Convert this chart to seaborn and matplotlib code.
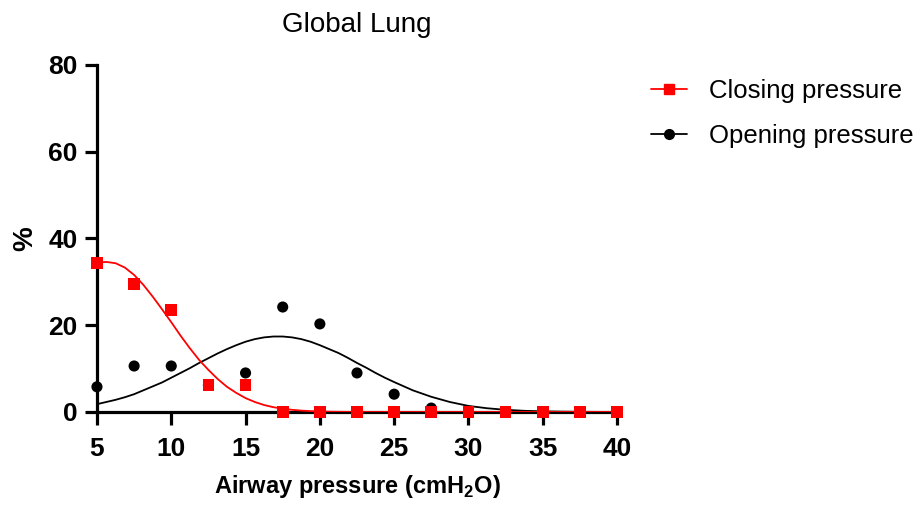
import matplotlib
matplotlib.use("Agg")
import matplotlib.pyplot as plt
from matplotlib.lines import Line2D
import pandas as pd
import seaborn as sns

# measured points
pressure = [5, 7.5, 10, 12.5, 15, 17.5, 20, 22.5, 25, 27.5, 30, 32.5, 35, 37.5, 40]
closing = [34.4, 29.5, 23.5, 6.2, 6.2, 0, 0, 0, 0, 0, 0, 0, 0, 0, 0]
opening = [5.8, 10.6, 10.6, 6.2, 9.0, 24.2, 20.3, 9.0, 4.1, 0.9, 0, 0, 0, 0, 0]

# fitted curves
fit_x = [5, 5.625, 6.25, 6.875, 7.5, 8.125, 8.75, 9.375, 10, 10.625,
         11.25, 11.875, 12.5, 13.125, 13.75, 14.375, 15, 15.625, 16.25, 16.875,
         17.5, 18.125, 18.75, 19.375, 20, 20.625, 21.25, 21.875, 22.5, 23.125,
         23.75, 24.375, 25, 26.25, 27.5, 28.75, 30, 31.25, 32.5, 33.75,
         35, 36.25, 37.5, 38.75, 40]
closing_fit = [34.4, 34.6, 34.3, 33.3, 31.6, 29.3, 26.6, 23.7, 20.7, 17.6,
               14.7, 12.0, 9.7, 7.6, 5.8, 4.4, 3.2, 2.3, 1.6, 1.1,
               0.75, 0.5, 0.32, 0.2, 0.12, 0.07, 0.04, 0.02, 0.01, 0,
               0, 0, 0, 0, 0, 0, 0, 0, 0, 0,
               0, 0, 0, 0, 0]
opening_fit = [1.8, 2.3, 2.8, 3.4, 4.1, 5.0, 5.9, 6.8, 7.9, 9.0,
               10.1, 11.3, 12.4, 13.5, 14.5, 15.4, 16.2, 16.8, 17.2, 17.4,
               17.4, 17.2, 16.8, 16.2, 15.4, 14.5, 13.6, 12.5, 11.3, 10.2,
               9.0, 7.9, 6.9, 5.0, 3.5, 2.3, 1.4, 0.86, 0.5, 0.27,
               0.15, 0.08, 0.04, 0.02, 0.01]

series_names = ["Closing pressure", "Opening pressure"]
colors = ["#ff0000", "#000000"]

pts = pd.DataFrame({"x": pressure, "closing": closing, "opening": opening})
fit = pd.DataFrame({"x": fit_x, "closing": closing_fit, "opening": opening_fit})

sns.set_style("ticks")
plt.rcParams["font.family"] = ["Liberation Sans", "DejaVu Sans"]
plt.rcParams["text.color"] = "black"
plt.rcParams["axes.labelcolor"] = "black"
plt.rcParams["xtick.color"] = "black"
plt.rcParams["ytick.color"] = "black"

fig = plt.figure(figsize=(9.2, 5.05), dpi=100)
ax = fig.add_axes([0.1054, 0.1842, 0.5653, 0.6871])

sns.lineplot(data=fit, x="x", y="opening", color=colors[1], linewidth=1.3, ax=ax, zorder=2)
sns.scatterplot(data=pts, x="x", y="opening", color=colors[1], marker="o", s=64,
                edgecolor="none", ax=ax, zorder=3, clip_on=False)
sns.lineplot(data=fit, x="x", y="closing", color=colors[0], linewidth=1.3, ax=ax, zorder=4)
sns.scatterplot(data=pts, x="x", y="closing", color=colors[0], marker="s", s=72,
                edgecolor="none", ax=ax, zorder=5, clip_on=False)

ax.set_xlim(5, 40)
ax.set_ylim(0, 80)
ax.set_xticks(range(5, 41, 5))
ax.set_yticks(range(0, 81, 20))
for s in ["top", "right"]:
    ax.spines[s].set_visible(False)
for s in ["left", "bottom"]:
    ax.spines[s].set_linewidth(2.3)
    ax.spines[s].set_color("black")
ax.tick_params(axis="both", direction="out", length=9, width=2.3, color="black",
               labelsize=19, pad=5)
ax.tick_params(axis="x", pad=9)
for lab in ax.get_xticklabels() + ax.get_yticklabels():
    lab.set_fontweight("bold")

ax.set_xlabel("Airway pressure (cmH$_\\mathregular{2}$O)", fontsize=17, fontweight="bold", labelpad=9)
ax.set_ylabel("%", fontsize=20, fontweight="bold", labelpad=7)
ax.set_title("Global Lung", fontsize=20, pad=24)

handles = [
    Line2D([], [], color=colors[0], marker="s", markersize=7.5, linewidth=1.3),
    Line2D([], [], color=colors[1], marker="o", markersize=7, linewidth=1.3),
]
fig.legend(handles, series_names, loc="upper left", bbox_to_anchor=(0.683, 0.889),
           frameon=False, fontsize=18.5, handlelength=1.4, labelspacing=0.8, handletextpad=0.85)

plt.savefig("out.png", dpi=100)
